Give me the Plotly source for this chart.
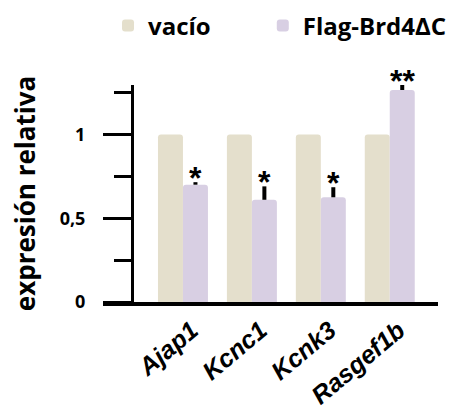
import plotly.graph_objects as go

genes = ["Ajap1", "Kcnc1", "Kcnk3", "Rasgef1b"]
vacio = [1.0, 1.0, 1.0, 1.0]
flag = [0.70, 0.61, 0.625, 1.265]
flag_err = [0.015, 0.08, 0.06, 0.03]
signif = ["*", "*", "*", "**"]
ytick_vals = [0, 0.5, 1]
ytick_text = ["0", "0,5", "1"]
yminor_vals = [0.25, 0.75, 1.25]

C_VACIO = "#E4DFCC"
C_FLAG = "#D8CFE3"

LEG_FONT = dict(family="Open Sans", size=24, color="black", weight="bold")

fig = go.Figure()
fig.add_trace(go.Bar(x=genes, y=vacio, name="vacío", legend="legend",
                     marker=dict(color=C_VACIO, line=dict(width=0))))
fig.add_trace(go.Bar(
    x=genes, y=flag, name="Flag-Brd4ΔC", legend="legend2",
    marker=dict(color=C_FLAG, line=dict(width=0)),
    error_y=dict(type="data", array=flag_err, arrayminus=[0] * len(flag_err),
                 symmetric=False, color="black", thickness=4, width=0),
))

for g, v, e, s in zip(genes, flag, flag_err, signif):
    fig.add_annotation(x=g, y=v + e, xref="x", yref="y", text=s, showarrow=False,
                       xshift=12.5, yshift=4, yanchor="middle",
                       font=dict(family="Liberation Sans", size=32, color="black", weight="bold"))

fig.update_layout(
    width=451, height=414,
    margin=dict(l=103, r=13, t=85, b=112, autoexpand=False),
    paper_bgcolor="white", plot_bgcolor="white",
    barmode="group", bargap=0.275, bargroupgap=0, barcornerradius=3,
    showlegend=True,
    legend=dict(orientation="h", x=0.015, xanchor="left", y=1.272, yanchor="middle",
                font=LEG_FONT, bgcolor="rgba(0,0,0,0)"),
    legend2=dict(orientation="h", x=0.477, xanchor="left", y=1.272, yanchor="middle",
                 font=LEG_FONT, bgcolor="rgba(0,0,0,0)"),
    xaxis=dict(type="category", range=[-1.16, 3.70], showline=True, linewidth=4, linecolor="black",
               ticks="", tickangle=-40, showgrid=False, zeroline=False, automargin=False,
               ticklabelshift=9,
               tickfont=dict(family="Liberation Sans", size=25, color="black", weight="bold", style="italic")),
    yaxis=dict(range=[0, 1.295], anchor="free", position=0.0866, showline=True, linewidth=3,
               linecolor="black", ticks="outside", ticklen=28, tickwidth=3, tickcolor="black",
               tickvals=ytick_vals, ticktext=ytick_text, showgrid=False, zeroline=False,
               ticklabelstandoff=14, automargin=False,
               minor=dict(tickvals=yminor_vals, ticks="outside", ticklen=17, tickwidth=3, tickcolor="black", showgrid=False),
               tickfont=dict(family="Open Sans", size=18, color="black", weight="bold"),
               title=dict(text="expresión relativa", standoff=15,
                          font=dict(family="Open Sans", size=26, color="black", weight="bold"))),
)

fig.write_html("out.html")
